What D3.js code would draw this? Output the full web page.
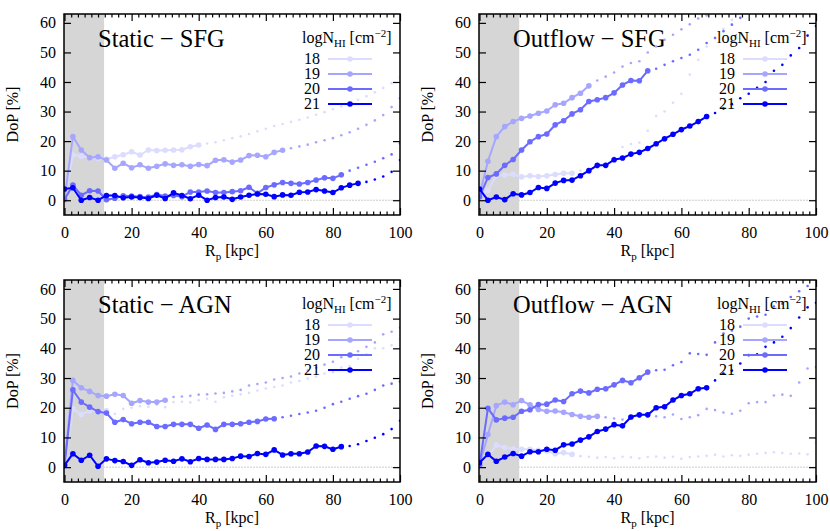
<!DOCTYPE html>
<html><head><meta charset="utf-8">
<script src="https://cdn.jsdelivr.net/npm/d3@7"></script>
<style>body{margin:0;background:#fff}svg{display:block}</style>
</head><body>
<svg id="c" width="830" height="531"></svg>
<script>
// ---------------- DATA ----------------
const rp = [0,2.5,5,7.5,10,12.5,15,17.5,20,22.5,25,27.5,30,32.5,35,37.5,40,42.5,45,47.5,50,52.5,55,57.5,60,62.5,65,67.5,70,72.5,75,77.5,80,82.5,85,87.5,90,92.5,95,97.5,100];
const levels = ["18","19","20","21"];
const levelColors = ["#dcdcff","#a6a6ff","#6b6bff","#0000ff"];
const panelTitles = ["Static \u2212 SFG","Outflow \u2212 SFG","Static \u2212 AGN","Outflow \u2212 AGN"];
const xTickValues = [0,20,40,60,80,100];
const yTickValues = [0,10,20,30,40,50,60];
const shadedRp = 11.8;

// Static - SFG
const staticSFG_18 = [0.5,15.3,14.9,14.4,14.1,13.9,14.7,15.4,16.4,15.3,17.0,16.8,16.9,17.0,17.1,18.1,18.7,
  19.2,19.6,20.3,21.0,21.6,22.4,23.3,24.2,25.1,25.8,26.5,27.2,28.0,28.9,29.8,30.8,31.7,32.8,34.0,35.2,36.5,38.0,39.6,41.5];
const staticSFG_19 = [0.2,21.5,17.0,14.4,14.7,13.6,10.8,12.5,11.0,12.0,10.8,11.5,12.3,11.8,12.0,11.5,12.1,11.7,13.5,13.7,12.9,13.6,15.1,15.2,14.7,16.2,16.9,
  17.6,18.2,18.8,19.6,20.3,21.0,22.0,23.0,24.2,25.5,27.0,28.8,31.5,34.5];
const staticSFG_20 = [0.3,5.1,1.7,3.2,3.1,0.2,0.7,1.5,1.4,1.2,1.1,1.9,1.4,1.6,1.2,2.8,2.8,3.1,2.6,2.6,2.9,3.2,4.4,2.3,4.3,5.2,6.0,5.7,5.5,6.0,6.8,7.6,7.4,8.6,
  10.0,11.0,12.0,13.0,14.2,15.5,19.2];
const staticSFG_21 = [3.8,4.2,0.0,0.9,0.0,1.6,1.6,0.8,1.1,0.9,0.6,1.7,0.6,2.5,1.6,0.5,1.7,0.0,0.9,1.1,0.3,1.1,1.7,2.1,2.0,1.2,1.8,1.7,2.7,2.8,3.6,3.1,2.6,4.2,5.1,5.7,
  6.2,7.0,8.0,9.6,13.6];
const staticSFG_solidEnd = [40,65,82.5,87.5];

// Outflow - SFG
const outflowSFG_18 = [1.1,3.4,8.3,8.5,8.8,7.9,8.3,8.0,8.3,8.7,9.1,9.1,
  10.0,10.5,11.0,12.0,14.5,18.0,19.0,19.5,23.5,28.5,30.0,33.0,36.0,42.5,47.5,52.0,55.0,58.0,61.0];
const outflowSFG_19 = [1.7,13.2,21.5,24.9,26.6,27.7,28.5,29.4,30.2,32.3,32.8,34.7,36.2,38.7,
  40.5,41.8,43.2,45.2,46.4,47.0,50.0,52.0,54.3,56.0,57.8,59.5,61.5,62.5];
const outflowSFG_20 = [1.1,7.7,8.9,11.8,13.8,17.0,19.8,21.5,22.4,25.5,26.9,29.2,30.6,33.4,34.0,34.7,36.3,39.0,40.5,40.4,43.8,
  44.5,45.8,47.0,48.1,49.2,50.9,53.2,54.9,57.2,59.4,61.7];
const outflowSFG_21 = [3.8,0.0,1.1,0.2,2.2,1.8,2.6,4.3,4.0,5.8,6.7,6.8,8.3,10.0,11.8,11.8,13.7,14.3,15.6,16.2,17.5,19.1,20.8,22.3,23.9,25.1,26.6,28.3,
  29.5,31.0,32.5,34.5,36.0,38.0,40.0,43.8,45.8,49.0,51.5,55.7,58.9];
const outflowSFG_solidEnd = [27.5,32.5,50,67.5];

// Static - AGN
const staticAGN_18 = [0.8,19.6,17.7,19.0,18.8,19.0,
  17.9,19.6,20.0,20.5,20.3,21.0,20.2,21.9,22.0,21.8,22.5,23.0,22.0,23.5,24.0,24.5,25.0,25.8,26.5,27.0,27.5,28.5,29.0,29.8,30.5,31.5,32.0,33.5,34.0,36.5,38.0,40.0,40.0,41.0,43.0];
const staticAGN_19 = [1.0,29.2,26.7,25.5,24.1,23.9,24.5,24.1,21.5,22.4,21.9,21.9,22.5,
  23.6,23.8,24.0,24.4,24.5,24.8,25.0,25.5,26.0,27.5,28.0,28.5,29.5,30.0,30.5,31.5,32.5,33.5,34.5,35.5,37.0,38.0,39.0,40.5,42.0,44.7,45.6,47.0];
const staticAGN_20 = [0.6,26.0,21.9,20.2,18.7,18.2,15.1,16.0,14.6,15.1,15.1,13.7,13.7,14.4,14.4,14.4,13.1,14.2,12.7,14.4,14.4,14.6,15.1,15.4,16.2,16.3,
  16.8,17.3,17.9,18.4,19.0,20.0,21.2,22.0,23.0,23.9,24.7,26.0,27.5,28.1,28.8];
const staticAGN_21 = [0.6,4.5,2.3,4.0,0.3,2.8,2.2,1.9,0.6,2.5,1.5,1.7,2.3,2.0,2.8,1.8,2.9,2.6,2.6,2.6,2.9,3.7,3.6,4.6,4.3,5.8,4.1,4.5,4.5,5.1,7.1,7.0,6.0,6.9,
  7.1,7.7,8.8,9.9,11.1,12.8,15.6];
const staticAGN_solidEnd = [12.5,30,62.5,82.5];

// Outflow - AGN
const outflowAGN_18 = [0.5,3.5,7.4,6.6,6.2,6.0,6.0,5.7,5.4,4.5,4.9,4.3,
  3.7,3.5,3.2,3.4,3.0,3.5,3.3,3.0,3.4,3.6,3.2,3.5,2.8,3.4,3.6,3.8,4.2,3.6,4.0,3.8,4.2,4.5,4.8,5.0,4.8,4.5,4.6,4.3,8.3];
const outflowAGN_19 = [0.6,11.0,20.7,21.9,21.0,22.4,21.0,19.4,18.8,18.9,18.5,17.7,17.1,16.8,17.1,
  16.8,16.4,16.0,16.6,17.0,17.4,17.1,16.8,17.7,16.2,16.8,17.5,19.6,19.2,18.4,18.0,19.0,21.5,21.9,21.9,24.1,24.4,24.0,28.5,33.2,33.7];
const outflowAGN_20 = [0.6,19.8,15.9,16.5,16.8,18.8,19.3,21.1,21.2,22.6,22.1,24.7,25.6,25.0,26.2,26.4,27.7,29.2,28.4,30.1,32.0,
  32.6,32.8,34.3,35.4,38.3,38.1,37.8,42.0,45.0,46.0,47.3,50.0,50.7,51.3,54.1,55.0,57.3,59.2,61.0];
const outflowAGN_21 = [1.5,4.3,2.0,3.4,4.6,3.7,5.2,5.2,6.0,5.7,7.5,7.8,9.1,10.2,12.0,12.8,14.3,13.9,16.9,17.6,17.6,20.0,20.3,22.6,24.1,24.7,26.4,26.7,
  29.2,31.5,32.5,34.9,37.7,38.0,40.5,42.0,43.9,46.8,50.4,53.8,55.3];
const outflowAGN_solidEnd = [27.5,35,50,67.5];

// ---------------- DRAW ----------------
const FONT = "'Liberation Serif','Times New Roman',serif";
const FS = 16;
const svg = d3.select("#c");

const panels = [
  {x0:64, x1:400, y0:14, y1:215, title:panelTitles[0], series:[staticSFG_18,staticSFG_19,staticSFG_20,staticSFG_21], ends:staticSFG_solidEnd},
  {x0:479, x1:816, y0:14, y1:215, title:panelTitles[1], series:[outflowSFG_18,outflowSFG_19,outflowSFG_20,outflowSFG_21], ends:outflowSFG_solidEnd},
  {x0:64, x1:400, y0:280, y1:482, title:panelTitles[2], series:[staticAGN_18,staticAGN_19,staticAGN_20,staticAGN_21], ends:staticAGN_solidEnd},
  {x0:479, x1:816, y0:280, y1:482, title:panelTitles[3], series:[outflowAGN_18,outflowAGN_19,outflowAGN_20,outflowAGN_21], ends:outflowAGN_solidEnd}
];

panels.forEach((p, pi) => {
  const g = svg.append("g");
  const x = d3.scaleLinear().domain([0,100]).range([p.x0+0.5, p.x1]);
  const y = d3.scaleLinear().domain([-5,63]).range([p.y1, p.y0]);
  const clipId = "clip"+pi;
  svg.append("clipPath").attr("id",clipId).append("rect")
    .attr("x",p.x0).attr("y",p.y0).attr("width",p.x1-p.x0).attr("height",p.y1-p.y0);

  // zero line
  g.append("line").attr("x1",x(0)).attr("x2",x(100)).attr("y1",y(0)).attr("y2",y(0))
    .attr("stroke","#999").attr("stroke-width",1).attr("stroke-dasharray","1,2");
  // shaded region
  g.append("rect").attr("x",p.x0).attr("y",p.y0).attr("width",x(shadedRp)-p.x0).attr("height",p.y1-p.y0)
    .attr("fill","#d6d6d6");

  // title
  g.append("text").attr("x",p.x0+34).attr("y",p.y0+33).text(p.title)
    .attr("font-family",FONT).attr("font-size",24.5).attr("fill","#000");

  // data
  const dg = g.append("g").attr("clip-path",`url(#${clipId})`);
  const line = d3.line().x(d=>x(d[0])).y(d=>y(d[1]));
  p.series.forEach((vals, si) => {
    const pts = vals.map((v,i)=>[rp[i], v]);
    const solid = pts.filter(d=>d[0] <= p.ends[si]);
    const dots = pts.filter(d=>d[0] > p.ends[si]);
    const col = levelColors[si];
    dg.append("g").selectAll("circle").data(dots).join("circle")
      .attr("cx",d=>x(d[0])).attr("cy",d=>y(d[1])).attr("r",1.3).attr("fill",col);
    dg.append("path").datum(solid).attr("d",line).attr("fill","none")
      .attr("stroke",col).attr("stroke-width",2);
    dg.append("g").selectAll("circle").data(solid).join("circle")
      .attr("cx",d=>x(d[0])).attr("cy",d=>y(d[1])).attr("r",2.8).attr("fill",col);
  });

  // legend
  const lx = p.x0 + 238, ly = p.y0 + 29;
  const lt = g.append("text").attr("x",lx).attr("y",ly).attr("font-family",FONT).attr("font-size",FS).attr("fill","#000");
  lt.append("tspan").text("logN");
  lt.append("tspan").text("HI").attr("font-size",11).attr("dy",4);
  lt.append("tspan").text(" [cm").attr("dy",-4);
  lt.append("tspan").text("\u22122").attr("font-size",11).attr("dy",-6);
  lt.append("tspan").text("]").attr("dy",6);
  levels.forEach((lv, li) => {
    const cy = p.y0 + 45 + li*15;
    g.append("text").attr("x",p.x0+256).attr("y",cy+5).attr("text-anchor","end").text(lv)
      .attr("font-family",FONT).attr("font-size",FS).attr("fill","#000");
    g.append("line").attr("x1",p.x0+264).attr("x2",p.x0+308).attr("y1",cy).attr("y2",cy)
      .attr("stroke",levelColors[li]).attr("stroke-width",2);
    g.append("circle").attr("cx",p.x0+286).attr("cy",cy).attr("r",2.8).attr("fill",levelColors[li]);
  });

  // axes
  const minorX = d3.range(0,101,2).filter(v=>v%20!==0);
  const styleAxis = sel => { sel.select(".domain").remove(); sel.selectAll("line").attr("stroke","#000").attr("stroke-width",1.2);
    sel.selectAll("text").attr("font-family",FONT).attr("font-size",FS).attr("fill","#000"); };
  g.append("g").attr("transform",`translate(0,${p.y1})`)
    .call(d3.axisBottom(x).tickValues(xTickValues).tickSize(-7).tickPadding(12).tickFormat(d3.format("d"))).call(styleAxis);
  g.append("g").attr("transform",`translate(0,${p.y1})`)
    .call(d3.axisBottom(x).tickValues(minorX).tickSize(-3.5).tickFormat("")).call(styleAxis);
  g.append("g").attr("transform",`translate(0,${p.y0})`)
    .call(d3.axisTop(x).tickValues(xTickValues).tickSize(-7).tickFormat("")).call(styleAxis);
  g.append("g").attr("transform",`translate(0,${p.y0})`)
    .call(d3.axisTop(x).tickValues(minorX).tickSize(-3.5).tickFormat("")).call(styleAxis);
  g.append("g").attr("transform",`translate(${p.x0},0)`)
    .call(d3.axisLeft(y).tickValues(yTickValues).tickSize(-7).tickPadding(8).tickFormat(d3.format("d"))).call(styleAxis);
  g.append("g").attr("transform",`translate(${p.x1},0)`)
    .call(d3.axisRight(y).tickValues(yTickValues).tickSize(-7).tickFormat("")).call(styleAxis);

  // frame
  g.append("rect").attr("x",p.x0).attr("y",p.y0).attr("width",p.x1-p.x0).attr("height",p.y1-p.y0)
    .attr("fill","none").attr("stroke","#000").attr("stroke-width",1.5);

  // axis labels
  g.append("text").attr("transform",`translate(${p.x0-46},${(p.y0+p.y1)/2}) rotate(-90)`)
    .attr("text-anchor","middle").attr("font-family",FONT).attr("font-size",FS).attr("fill","#000").text("DoP [%]");
  const xl = g.append("text").attr("x",(p.x0+p.x1)/2).attr("y",p.y1+41).attr("text-anchor","middle")
    .attr("font-family",FONT).attr("font-size",FS).attr("fill","#000");
  xl.append("tspan").text("R");
  xl.append("tspan").text("p").attr("font-size",11).attr("dy",4);
  xl.append("tspan").text(" [kpc]").attr("dy",-4);
});
</script>
</body></html>
